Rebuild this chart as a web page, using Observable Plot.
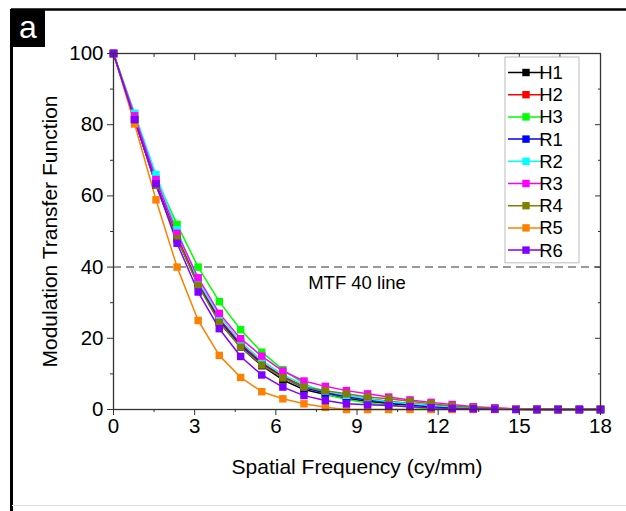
<!DOCTYPE html>
<html>
<head>
<meta charset="utf-8">
<script src="https://cdn.jsdelivr.net/npm/d3@7"></script>
<script src="https://cdn.jsdelivr.net/npm/@observablehq/plot@0.6"></script>
<style>
  html, body { margin: 0; padding: 0; background: #fff; }
  #chart { width: 626px; height: 511px; overflow: hidden; }
  svg { font-family: "Liberation Sans", Arial, sans-serif; }
</style>
</head>
<body>
<div id="chart"></div>
<script>
// ---- data ----
const freq = [0, 0.78, 1.57, 2.35, 3.13, 3.91, 4.70, 5.48, 6.26, 7.04, 7.83, 8.61, 9.39, 10.17, 10.96, 11.74, 12.52, 13.30, 14.09, 14.87, 15.65, 16.43, 17.22, 18.00];
const H1 = [100, 81.5, 63, 48, 35.5, 24.5, 17.5, 12.3, 8.3, 5.6, 4.2, 3.1, 2.3, 1.7, 1.2, 0.8, 0.5, 0.3, 0.2, 0.1, 0, 0, 0, 0];
const H2 = [100, 81.5, 63.5, 48.5, 35.5, 25.5, 18.5, 13.2, 9.3, 6.5, 4.9, 3.9, 3.0, 2.3, 1.7, 1.2, 0.8, 0.5, 0.3, 0.2, 0.1, 0, 0, 0];
const H3 = [100, 83, 65, 52, 40, 30.3, 22.4, 16.1, 11.2, 7.3, 4.3, 2.8, 1.8, 1.2, 0.7, 0.1, 0.1, 0.3, 0.2, 0, 0, 0, 0, 0];
const R1 = [100, 81.5, 63.5, 48, 35, 25, 18, 12.8, 9, 6.1, 4.6, 3.6, 2.7, 2.0, 1.5, 1.0, 0.7, 0.4, 0.2, 0.1, 0, 0, 0, 0];
const R2 = [100, 83.2, 66, 50.5, 36, 26.4, 19, 13.8, 9.8, 6.9, 5.2, 4.0, 3.0, 2.2, 1.6, 1.1, 0.8, 0.5, 0.3, 0.2, 0.1, 0, 0, 0];
const R3 = [100, 82.5, 64.6, 49.5, 37, 27, 19.9, 15, 10.8, 8.0, 6.5, 5.3, 4.4, 3.5, 2.7, 2.0, 1.4, 0.8, 0.5, 0.2, 0.1, 0, 0, 0];
const R4 = [100, 81.5, 63, 48, 34.8, 24.5, 17.5, 12.5, 8.9, 6.3, 5.3, 4.4, 3.5, 3.0, 2.3, 1.6, 1.0, 0.6, 0.3, 0.1, 0, 0, 0, 0];
const R5 = [100, 80.2, 58.9, 40, 25, 15.2, 9, 5, 3, 1.6, 0.6, 0, 0, 0, 0, 0, 0, 0, 0, 0.2, 0, 0, 0, 0];
const R6 = [100, 81.4, 63.4, 46.7, 33, 22.7, 14.9, 9.7, 6.3, 3.9, 2.5, 1.6, 1.3, 1.1, 0.8, 0.5, 0.3, 0.2, 0.1, 0, 0, 0, 0, 0];

const seriesNames = ["H1", "H2", "H3", "R1", "R2", "R3", "R4", "R5", "R6"];
const seriesValues = [H1, H2, H3, R1, R2, R3, R4, R5, R6];
const seriesColors = ["#000000", "#ff0000", "#00ff00", "#0000ff", "#00ffff", "#ff00ff", "#808000", "#ff8000", "#8000ff"];

const xTicks = [0, 3, 6, 9, 12, 15, 18];
const xMinor = [1.5, 4.5, 7.5, 10.5, 13.5, 16.5];
const yTicks = [0, 20, 40, 60, 80, 100];
const yMinor = [10, 30, 50, 70, 90];
const mtfLevel = 40;
const mtfLabel = "MTF 40 line";
const mtfLabelPos = {x: 9, y: 35.5};
const xLabel = "Spatial Frequency (cy/mm)";
const yLabel = "Modulation Transfer Function";
const panelLabel = "a";

// ---- table ----
const rows = [];
seriesNames.forEach((name, s) => {
  freq.forEach((f, i) => rows.push({series: name, f, v: seriesValues[s][i]}));
});

const W = 626, H = 511;
const tickFont = 20.5;
const labelFont = 21;
const FONT = "'Liberation Sans', Arial, sans-serif";

const plot = Plot.plot({
  width: W,
  height: H,
  marginLeft: 113,
  marginRight: 26,
  marginTop: 53,
  marginBottom: 102,
  style: {fontSize: tickFont + "px", fontFamily: FONT, color: "#000", background: "transparent"},
  x: {domain: [0, 18]},
  y: {domain: [0, 100]},
  color: {domain: seriesNames, range: seriesColors},
  marks: [
    Plot.ruleY([mtfLevel], {stroke: "#777", strokeWidth: 1.5, strokeDasharray: "8,5"}),
    Plot.text([mtfLabelPos], {x: "x", y: "y", text: () => mtfLabel, fontSize: 18.5, fill: "#000"}),
    ...seriesNames.map(name => Plot.line(rows.filter(r => r.series === name), {x: "f", y: "v", stroke: "series", strokeWidth: 1.5})),
    ...seriesNames.map(name => Plot.dot(rows.filter(r => r.series === name), {x: "f", y: "v", fill: "series", symbol: "square", r: 4.2, stroke: "none"})),
    Plot.frame({stroke: "#333", strokeWidth: 1.3}),
    // bottom axis (outward)
    Plot.axisX({ticks: xTicks, tickSize: 6, tickPadding: 3, label: null, stroke: "#333", fontSize: tickFont, fill: "#000"}),
    Plot.axisX({ticks: xMinor, tickSize: 3, text: null, label: null, stroke: "#333"}),
    // top axis (inward)
    Plot.axisX({anchor: "top", ticks: xTicks, tickSize: -6, text: null, label: null, stroke: "#333"}),
    Plot.axisX({anchor: "top", ticks: xMinor, tickSize: -3, text: null, label: null, stroke: "#333"}),
    // left axis (outward)
    Plot.axisY({ticks: yTicks, tickSize: 6, tickPadding: 4, label: null, stroke: "#333", fontSize: tickFont, fill: "#000"}),
    Plot.axisY({ticks: yMinor, tickSize: 3, text: null, label: null, stroke: "#333"}),
    // right axis (inward)
    Plot.axisY({anchor: "right", ticks: yTicks, tickSize: -6, text: null, label: null, stroke: "#333"}),
    Plot.axisY({anchor: "right", ticks: yMinor, tickSize: -3, text: null, label: null, stroke: "#333"}),
    Plot.text([xLabel], {frameAnchor: "bottom", dy: 58, text: d => d, fontSize: labelFont, lineAnchor: "middle", textAnchor: "middle", fill: "#000"}),
    Plot.text([yLabel], {frameAnchor: "left", dx: -63, rotate: -90, text: d => d, fontSize: labelFont, lineAnchor: "middle", textAnchor: "middle", fill: "#000"})
  ]
});

const svg = d3.select(plot);
// panel decorations
svg.append("line").attr("x1", 11).attr("x2", W).attr("y1", 9.5).attr("y2", 9.5).attr("stroke", "#000").attr("stroke-width", 2.5);
svg.append("line").attr("x1", 11.5).attr("x2", 11.5).attr("y1", 9).attr("y2", H).attr("stroke", "#000").attr("stroke-width", 3);
svg.append("line").attr("x1", 12).attr("x2", W).attr("y1", 505.5).attr("y2", 505.5).attr("stroke", "#ddd").attr("stroke-width", 1);
svg.append("rect").attr("x", 11).attr("y", 9).attr("width", 34).attr("height", 38).attr("fill", "#000");
svg.append("text").attr("x", 28).attr("y", 38).attr("text-anchor", "middle").attr("fill", "#fff")
  .attr("font-size", 32).attr("font-family", FONT).text(panelLabel);

// legend
const lg = svg.append("g");
const lx = 505, ly = 57, lw = 74, step = 22.2;
lg.append("rect").attr("x", lx).attr("y", ly).attr("width", lw).attr("height", step * seriesNames.length + 6)
  .attr("fill", "#fff").attr("stroke", "#bbb").attr("stroke-width", 1);
seriesNames.forEach((name, i) => {
  const cy = ly + 15.5 + i * step;
  lg.append("line").attr("x1", lx + 3).attr("x2", lx + 39).attr("y1", cy).attr("y2", cy)
    .attr("stroke", seriesColors[i]).attr("stroke-width", 1.5);
  lg.append("rect").attr("x", lx + 21 - 3.7).attr("y", cy - 3.7).attr("width", 7.4).attr("height", 7.4).attr("fill", seriesColors[i]);
  lg.append("text").attr("x", lx + 46).attr("y", cy).attr("dy", "0.35em").attr("font-size", 18.5)
    .attr("font-family", FONT).attr("fill", "#000").text(name);
});

document.getElementById("chart").appendChild(plot);
</script>
</body>
</html>
